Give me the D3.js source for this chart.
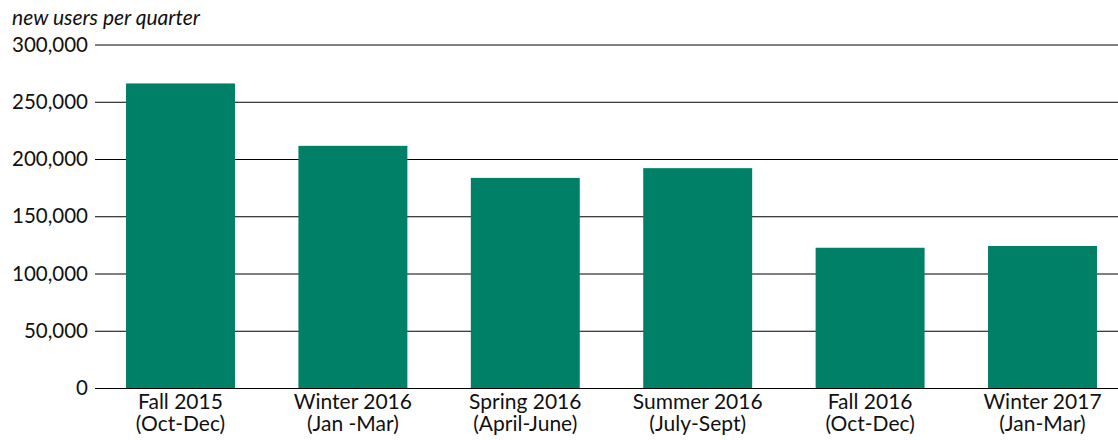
<!DOCTYPE html>
<html>
<head>
<meta charset="utf-8">
<script src="https://cdn.jsdelivr.net/npm/d3@7"></script>
<style>
  body { margin: 0; background: #fff; }
  text { font-family: Lato, "Noto Sans", sans-serif; fill: #111; }
</style>
</head>
<body>
<script>
// DATA //
const quarters = ['Fall 2015', 'Winter 2016', 'Spring 2016', 'Summer 2016', 'Fall 2016', 'Winter 2017'];
const months = ['(Oct-Dec)', '(Jan -Mar)', '(April-June)', '(July-Sept)', '(Oct-Dec)', '(Jan-Mar)'];
const newUsers = [266000, 211500, 183500, 192000, 122500, 124000];
const yTicks = [0, 50000, 100000, 150000, 200000, 250000, 300000];

const width = 1118, height = 440;
const plotLeft = 95, plotTop = 44.5, plotBottom = 388;

const svg = d3.select('body')
    .append('svg')
    .attr('width', width)
    .attr('height', height);

// scales
const x = d3.scaleBand()
    .domain(quarters)
    .range([plotLeft - 0.7, plotLeft - 0.7 + 6 * 172.4])
    .paddingInner(0.368)
    .paddingOuter(0.184);

const y = d3.scaleLinear()
    .domain([0, 300000])
    .range([plotBottom, plotTop]);

// gridlines + tick labels
const yAxis = svg.append('g')
    .attr('transform', `translate(${plotLeft},0)`)
    .call(d3.axisLeft(y)
        .tickValues(yTicks)
        .tickFormat(d3.format(','))
        .tickSize(-(width - plotLeft))
        .tickPadding(7));
yAxis.select('.domain').remove();
yAxis.selectAll('line').attr('stroke', '#000').attr('stroke-width', 1);
yAxis.selectAll('text').style('font-size', '20.5px').attr('fill', '#111');

// bars
svg.append('g')
    .selectAll('rect')
    .data(newUsers)
    .join('rect')
    .attr('x', (d, i) => x(quarters[i]))
    .attr('y', d => y(d))
    .attr('width', x.bandwidth())
    .attr('height', d => y(0) - y(d))
    .attr('fill', '#008066');

// baseline on top of bars
svg.append('line')
    .attr('x1', plotLeft).attr('x2', width)
    .attr('y1', y(0) + 0.5).attr('y2', y(0) + 0.5)
    .attr('stroke', '#000');

// x labels
const xl = svg.append('g')
    .selectAll('text')
    .data(quarters)
    .join('text')
    .attr('x', d => x(d) + x.bandwidth() / 2)
    .attr('y', 409)
    .attr('text-anchor', 'middle')
    .style('font-size', '21px');
xl.append('tspan').attr('x', d => x(d) + x.bandwidth() / 2).text(d => d);
xl.append('tspan').attr('x', d => x(d) + x.bandwidth() / 2).attr('dy', 21.5).text((d, i) => months[i]);

// title
svg.append('text')
    .attr('x', 12)
    .attr('y', 25)
    .style('font-size', '21px')
    .style('font-style', 'italic')
    .text('new users per quarter');
</script>
</body>
</html>
